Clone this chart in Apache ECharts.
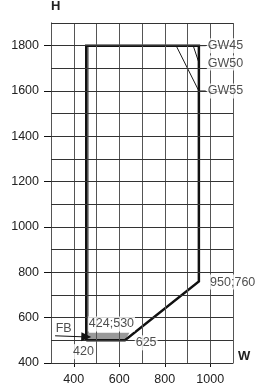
<!DOCTYPE html>
<html>
<head>
<meta charset="utf-8">
<script src="https://cdn.jsdelivr.net/npm/echarts@6/dist/echarts.min.js"></script>
<style>
  html, body { margin: 0; padding: 0; background: #fff; }
  #main { width: 256px; height: 389px; }
</style>
</head>
<body>
<div id="main"></div>
<script>
// labelled values and grid lines
var xTicks = [400, 600, 800, 1000];
var yTicks = [400, 600, 800, 1000, 1200, 1400, 1600, 1800];
var xGrid = [300, 400, 500, 600, 700, 800, 900, 1000, 1100];
var yGrid = [400, 500, 600, 700, 800, 900, 1000, 1100, 1200, 1300, 1400, 1500, 1600, 1700, 1800, 1900];

// outer outline (thick black)
var outlineX = [455, 455, 950, 950, 625, 455];
var outlineY = [500, 1800, 1800, 760, 500, 500];

// gray band inside the outline
var bandX = [455, 455, 467, 467, 645, 625];
var bandY = [500, 1800, 1800, 533, 533, 500];

// GW diagonals and leaders
var gw50X = [925, 950];
var gw50Y = [1800, 1725];
var gw55X = [850, 950];
var gw55Y = [1800, 1600];
var leader45X = [950, 980];
var leader45Y = [1800, 1800];
var leader55X = [950, 980];
var leader55Y = [1600, 1600];

// FB arrow
var fbX = [318, 455];
var fbY = [520, 515];

// annotations
var noteText = ['GW45', 'GW50', 'GW55', '950;760', '625', '424;530', '420', 'FB'];
var noteX = [985, 985, 985, 995, 668, 462, 443, 316];
var noteY = [1800, 1723, 1600, 757, 489, 572, 450, 552];
var noteAlign = ['left', 'left', 'left', 'left', 'left', 'left', 'center', 'left'];

function pairs(xs, ys) {
    return xs.map(function (x, i) { return [x, ys[i]]; });
}

var font = 'Liberation Sans, Arial, sans-serif';
var nameStyle = { fontFamily: font, fontWeight: 'bold', fontSize: 13, color: '#222' };

function labelsAt(list, margin) {
    return {
        customValues: list,
        margin: margin,
        fontFamily: font, fontSize: 12.5, color: '#222',
        formatter: function (v) { return String(v); }
    };
}

function thin(xs, ys, w) {
    return {
        type: 'line',
        data: pairs(xs, ys),
        symbol: 'none',
        lineStyle: { color: '#1a1a1a', width: w },
        silent: true,
        z: 3
    };
}

// grid lines every 100, placed through the axes
var gridLines = xGrid.map(function (v) {
    return { xAxis: v, lineStyle: { color: '#555' } };
}).concat(yGrid.map(function (v) {
    return { yAxis: v, lineStyle: { color: '#333' } };
}));

var chart = echarts.init(document.getElementById('main'));
var option = {
    animation: false,
    grid: { left: 51, right: 23, top: 23, bottom: 26 },
    xAxis: {
        type: 'value',
        min: 300, max: 1100, interval: 100,
        name: 'W',
        nameLocation: 'end',
        nameGap: 5,
        nameTextStyle: Object.assign({ verticalAlign: 'bottom' }, nameStyle),
        axisLine: { show: true, lineStyle: { color: '#111', width: 1 } },
        axisTick: { show: true, length: 4, customValues: xTicks, lineStyle: { color: '#111' } },
        axisLabel: labelsAt(xTicks, 10),
        splitLine: { show: false }
    },
    yAxis: {
        type: 'value',
        min: 400, max: 1900, interval: 100,
        name: 'H',
        nameLocation: 'end',
        nameGap: 10,
        nameTextStyle: Object.assign({ align: 'left' }, nameStyle),
        axisLine: { show: true, lineStyle: { color: '#111', width: 1 } },
        axisTick: { show: true, length: 7, customValues: yTicks, lineStyle: { color: '#111' } },
        axisLabel: labelsAt(yTicks, 12),
        splitLine: { show: false }
    },
    series: [
        {
            type: 'line',
            data: [],
            silent: true,
            z: 1,
            markLine: {
                silent: true,
                symbol: ['none', 'none'],
                label: { show: false },
                lineStyle: { width: 1, type: 'solid' },
                data: gridLines
            }
        },
        {
            type: 'custom',
            silent: true,
            z: 2,
            data: [0],
            renderItem: function (params, api) {
                var pts = pairs(bandX, bandY).map(function (p) { return api.coord(p); });
                return { type: 'polygon', shape: { points: pts }, style: { fill: '#999' } };
            }
        },
        thin(gw50X, gw50Y, 1),
        thin(gw55X, gw55Y, 1),
        thin(leader45X, leader45Y, 1),
        thin(leader55X, leader55Y, 1),
        {
            type: 'line',
            data: pairs(outlineX, outlineY),
            symbol: 'none',
            lineStyle: { color: '#111', width: 2.5, join: 'miter' },
            silent: true,
            z: 4
        },
        {
            type: 'line',
            data: [],
            silent: true,
            markLine: {
                silent: true,
                symbol: ['none', 'triangle'],
                symbolSize: [9, 10],
                label: { show: false },
                lineStyle: { color: '#111', width: 1, type: 'solid' },
                data: [[{ coord: [fbX[0], fbY[0]] }, { coord: [fbX[1], fbY[1]] }]]
            },
            z: 5
        },
        {
            type: 'scatter',
            symbolSize: 0,
            silent: true,
            z: 6,
            data: noteText.map(function (t, i) {
                return {
                    value: [noteX[i], noteY[i]],
                    label: {
                        show: true,
                        position: 'inside',
                        formatter: t,
                        align: noteAlign[i],
                        verticalAlign: 'middle',
                        fontFamily: font,
                        fontSize: 12.5,
                        color: '#222',
                        backgroundColor: t === 'FB' ? 'transparent' : '#fff',
                        padding: [1, 1]
                    }
                };
            })
        }
    ]
};
chart.setOption(option);
</script>
</body>
</html>
